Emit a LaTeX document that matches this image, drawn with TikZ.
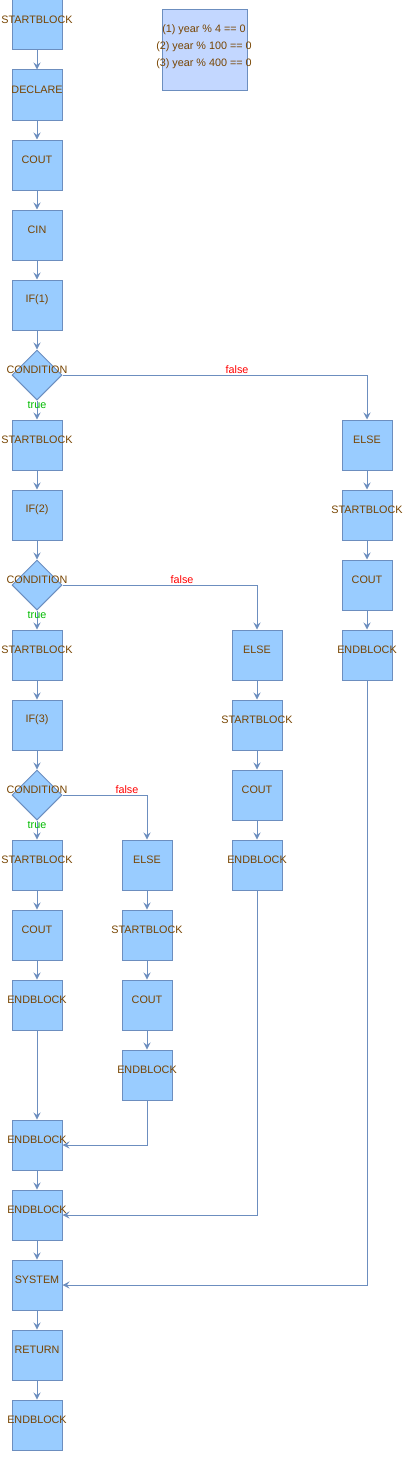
\documentclass[tikz,border=0pt]{standalone}
\usepackage{fontspec}
\setmainfont{Liberation Sans}
\usetikzlibrary{shapes.geometric,arrows.meta}
\definecolor{boxfill}{HTML}{99CCFF}
\definecolor{boxline}{HTML}{6C8EBF}
\definecolor{notefill}{HTML}{C3D7FF}
\definecolor{txt}{HTML}{774400}
\definecolor{truec}{HTML}{00BB00}
\definecolor{falsec}{HTML}{FF0000}
\tikzset{
  lbl/.style={text=txt, font=\fontsize{10.8}{13}\selectfont, inner sep=0pt},
  blk/.style={draw=boxline, fill=boxfill, line width=1pt, minimum width=50pt, minimum height=50pt, inner sep=0pt,
    label={[lbl, yshift=5pt]center:#1}},
  cond/.style={draw=boxline, fill=boxfill, line width=1pt, diamond, aspect=1, minimum width=50pt, minimum height=50pt, inner sep=0pt,
    label={[lbl, yshift=5pt]center:CONDITION}},
  arr/.style={draw=boxline, line width=1pt, -{Stealth[length=7pt,width=7pt,inset=2.5pt]}},
  tlbl/.style={text=truec, font=\fontsize{10.8}{13}\selectfont, inner sep=0pt},
  flbl/.style={text=falsec, font=\fontsize{10.8}{13}\selectfont, inner sep=0pt},
}
\begin{document}
\begin{tikzpicture}[x=1pt,y=-1pt]
\useasboundingbox (0,0) rectangle (406,1472);
% note
\node[draw=boxline, fill=notefill, line width=1pt, minimum width=85pt, minimum height=80pt, inner sep=0pt] (note) at (204.5,50) {};
\node[lbl, align=center, font=\fontsize{10.8}{17}\selectfont] (notetext) at (204,46.5) {(1) year \% 4 == 0\\(2) year \% 100 == 0\\(3) year \% 400 == 0};
% column 1
\node[blk=STARTBLOCK] (a0) at (37,25) {};
\node[blk=DECLARE] (a1) at (37,95) {};
\node[blk=COUT] (a2) at (37,165) {};
\node[blk=CIN] (a3) at (37,235) {};
\node[blk=IF(1)] (a4) at (37,305) {};
\node[cond] (c1) at (37,375) {};
\node[blk=STARTBLOCK] (a6) at (37,445) {};
\node[blk=IF(2)] (a7) at (37,515) {};
\node[cond] (c2) at (37,585) {};
\node[blk=STARTBLOCK] (a9) at (37,655) {};
\node[blk=IF(3)] (a10) at (37,725) {};
\node[cond] (c3) at (37,795) {};
\node[blk=STARTBLOCK] (a12) at (37,865) {};
\node[blk=COUT] (a13) at (37,935) {};
\node[blk=ENDBLOCK] (a14) at (37,1005) {};
\node[blk=ENDBLOCK] (a16) at (37,1145) {};
\node[blk=ENDBLOCK] (a17) at (37,1215) {};
\node[blk=SYSTEM] (a18) at (37,1285) {};
\node[blk=RETURN] (a19) at (37,1355) {};
\node[blk=ENDBLOCK] (a20) at (37,1425) {};
% column 4
\node[blk=ELSE] (d0) at (367,445) {};
\node[blk=STARTBLOCK] (d1) at (367,515) {};
\node[blk=COUT] (d2) at (367,585) {};
\node[blk=ENDBLOCK] (d3) at (367,655) {};
% column 3
\node[blk=ELSE] (e0) at (257,655) {};
\node[blk=STARTBLOCK] (e1) at (257,725) {};
\node[blk=COUT] (e2) at (257,795) {};
\node[blk=ENDBLOCK] (e3) at (257,865) {};
% column 2
\node[blk=ELSE] (f0) at (147,865) {};
\node[blk=STARTBLOCK] (f1) at (147,935) {};
\node[blk=COUT] (f2) at (147,1005) {};
\node[blk=ENDBLOCK] (f3) at (147,1075) {};
% main edges
\draw[arr] (a0) -- (a1);
\draw[arr] (a1) -- (a2);
\draw[arr] (a2) -- (a3);
\draw[arr] (a3) -- (a4);
\draw[arr] (a4) -- (c1);
\draw[arr] (c1) -- (a6);
\draw[arr] (a6) -- (a7);
\draw[arr] (a7) -- (c2);
\draw[arr] (c2) -- (a9);
\draw[arr] (a9) -- (a10);
\draw[arr] (a10) -- (c3);
\draw[arr] (c3) -- (a12);
\draw[arr] (a12) -- (a13);
\draw[arr] (a13) -- (a14);
\draw[arr] (a14) -- (a16);
\draw[arr] (a16) -- (a17);
\draw[arr] (a17) -- (a18);
\draw[arr] (a18) -- (a19);
\draw[arr] (a19) -- (a20);
% branches
\draw[arr] (d0) -- (d1);
\draw[arr] (d1) -- (d2);
\draw[arr] (d2) -- (d3);
\draw[arr] (e0) -- (e1);
\draw[arr] (e1) -- (e2);
\draw[arr] (e2) -- (e3);
\draw[arr] (f0) -- (f1);
\draw[arr] (f1) -- (f2);
\draw[arr] (f2) -- (f3);
\draw[arr] (c1.east) -| (d0.north);
\draw[arr] (c2.east) -| (e0.north);
\draw[arr] (c3.east) -| (f0.north);
\draw[arr] (f3.south) |- (a16.east);
\draw[arr] (e3.south) |- (a17.east);
\draw[arr] (d3.south) |- (a18.east);
% labels
\node[flbl] (fl1) at (237,370) {false};
\node[flbl] (fl2) at (182,580) {false};
\node[flbl] (fl3) at (127,790) {false};
\node[tlbl] (tl1) at (37,405) {true};
\node[tlbl] (tl2) at (37,615) {true};
\node[tlbl] (tl3) at (37,825) {true};
\end{tikzpicture}
\end{document}
